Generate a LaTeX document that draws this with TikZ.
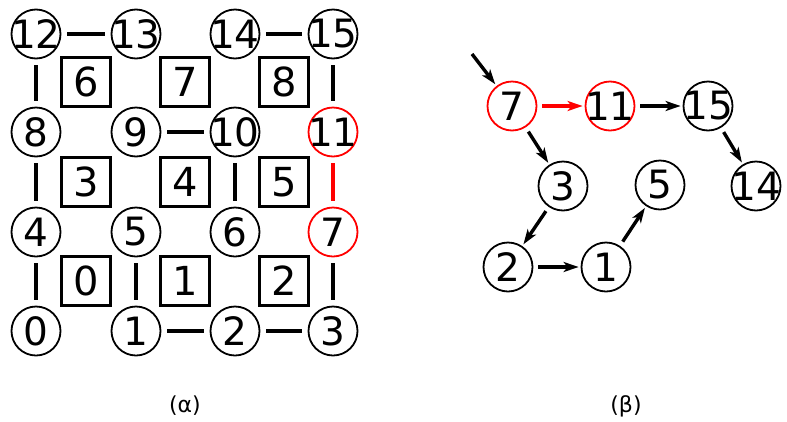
\documentclass[tikz,border=0pt]{standalone}
\usepackage{fontspec}
\setmainfont{DejaVu Sans}
\usetikzlibrary{arrows.meta}
\newcommand\zlbl[1]{\makebox[0pt]{#1}}
\begin{document}
\begin{tikzpicture}[x=1pt,y=-1pt,
  vtx/.style={circle,draw,line width=1.8pt,minimum size=49pt,inner sep=0pt,font=\fontsize{39}{39}\selectfont},
  redvtx/.style={vtx,draw=red},
  cell/.style={rectangle,draw,line width=3.2pt,minimum size=49pt,inner sep=0pt,font=\fontsize{40}{40}\selectfont},
  edge/.style={line width=3.5pt,shorten <=6pt,shorten >=6pt},
  arr/.style={line width=3.4pt,-{Stealth[length=15pt,width=10pt,inset=4pt]},shorten <=5pt,shorten >=2pt},
  captext/.style={font=\fontsize{22}{22}\selectfont}]
\useasboundingbox (0,0) rectangle (787,421);
% grid vertices
\node[vtx] (g0) at (36,331) {\zlbl{0}};
\node[vtx] (g1) at (136,331) {\zlbl{1}};
\node[vtx] (g2) at (235,331) {\zlbl{2}};
\node[vtx] (g3) at (333,331) {\zlbl{3}};
\node[vtx] (g4) at (36,232) {\zlbl{4}};
\node[vtx] (g5) at (136,232) {\zlbl{5}};
\node[vtx] (g6) at (235,232) {\zlbl{6}};
\node[redvtx] (g7) at (333,232) {\zlbl{7}};
\node[vtx] (g8) at (36,132) {\zlbl{8}};
\node[vtx] (g9) at (136,132) {\zlbl{9}};
\node[vtx] (g10) at (235,132) {\zlbl{10}};
\node[redvtx] (g11) at (333,132) {\zlbl{11}};
\node[vtx] (g12) at (36,34) {\zlbl{12}};
\node[vtx] (g13) at (136,34) {\zlbl{13}};
\node[vtx] (g14) at (235,34) {\zlbl{14}};
\node[vtx] (g15) at (333,34) {\zlbl{15}};
% cells
\node[cell] (c0) at (86,281) {0};
\node[cell] (c1) at (185,281) {1};
\node[cell] (c2) at (284,281) {2};
\node[cell] (c3) at (86,182) {3};
\node[cell] (c4) at (185,182) {4};
\node[cell] (c5) at (284,182) {5};
\node[cell] (c6) at (86,82) {6};
\node[cell] (c7) at (185,82) {7};
\node[cell] (c8) at (284,82) {8};
% grid edges
\draw[edge] (g12) -- (g13);
\draw[edge] (g14) -- (g15);
\draw[edge] (g12) -- (g8);
\draw[edge] (g15) -- (g11);
\draw[edge] (g9) -- (g10);
\draw[edge] (g8) -- (g4);
\draw[edge] (g10) -- (g6);
\draw[edge,draw=red] (g11) -- (g7);
\draw[edge] (g4) -- (g0);
\draw[edge] (g5) -- (g1);
\draw[edge] (g7) -- (g3);
\draw[edge] (g1) -- (g2);
\draw[edge] (g2) -- (g3);
% tree
\node[redvtx] (t7) at (512,106) {\zlbl{7}};
\node[redvtx] (t11) at (610,106) {\zlbl{11}};
\node[vtx] (t15) at (708,106) {\zlbl{15}};
\node[vtx] (t3) at (563,186) {\zlbl{3}};
\node[vtx] (t5) at (660,185) {\zlbl{5}};
\node[vtx] (t14) at (756,186) {\zlbl{14}};
\node[vtx] (t2) at (508,267) {\zlbl{2}};
\node[vtx] (t1) at (606,267) {\zlbl{1}};
\coordinate (start) at (472,54);
\draw[arr,shorten <=0pt] (start) -- (t7);
\draw[arr,draw=red] (t7) -- (t11);
\draw[arr] (t11) -- (t15);
\draw[arr] (t7) -- (t3);
\draw[arr] (t15) -- (t14);
\draw[arr] (t3) -- (t2);
\draw[arr] (t2) -- (t1);
\draw[arr] (t1) -- (t5);
% captions
\node[captext] (la) at (185,406) {(α)};
\node[captext] (lb) at (626,406) {(β)};
\end{tikzpicture}
\end{document}
